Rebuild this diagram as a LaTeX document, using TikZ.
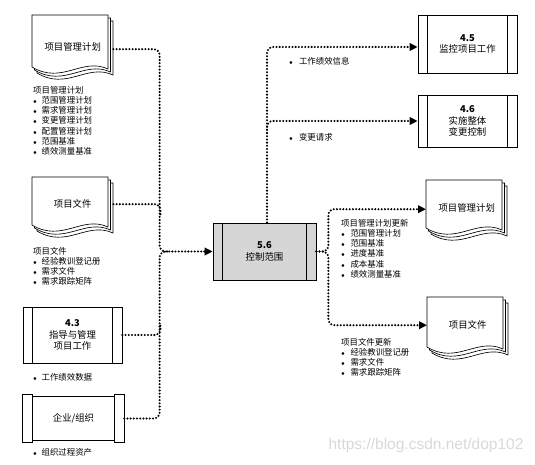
\documentclass[tikz,border=0pt]{standalone}
\usepackage{fontspec}
\setmainfont{Noto Sans CJK SC}
\newfontfamily\wmfont{Liberation Sans}
\usetikzlibrary{arrows.meta,calc}
\newcommand\bul[1][8.5pt]{\makebox[#1][l]{$\scriptstyle\bullet$}}
\newcommand\fsbox{\fontsize{9.4}{11.5}\selectfont}
\newcommand\fslist{\fontsize{8.4}{10.2}\selectfont}
\tikzset{
  flow/.style={line width=2.3pt, dash pattern=on 0pt off 3.2pt, line cap=round, rounded corners=6pt},
  tip/.style={-{Triangle[length=8pt,width=7.5pt]}},
  bar/.style={line width=0.75pt},
  proc/.style={draw, line width=0.75pt, fill=white, minimum width=99pt, inner sep=0pt, align=center, font=\fsbox,
    path picture={
      \draw[bar] ([xshift=9.5pt]path picture bounding box.north west) -- ([xshift=9.5pt]path picture bounding box.south west);
      \draw[bar] ([xshift=-9.5pt]path picture bounding box.north east) -- ([xshift=-9.5pt]path picture bounding box.south east);
    }},
  docnode/.style={anchor=north west, minimum width=81pt, inner sep=0pt, font=\fsbox},
  lst/.style={anchor=north west, inner sep=0pt, align=left, font=\fslist},
  pics/docpic/.style={code={
    \foreach \o in {5,2.5,0}{
      \filldraw[line width=0.65pt, fill=white] (\o,{1.2*\o}) -- ({76+\o},{1.2*\o}) -- ({76+\o},{#1+2+1.2*\o})
        .. controls ({50+\o},{#1-10+1.2*\o}) and ({30+\o},{#1+18+1.2*\o}) .. (\o,{#1+1.2*\o}) -- cycle;
    }}}
}
\begin{document}
\begin{tikzpicture}[x=1pt,y=-1pt]
\useasboundingbox[fill=white] (0,0) rectangle (535,465);

% documents (left)
\pic at (32,15) {docpic=52};
\node[docnode, minimum height=68pt] (d1) at (32,15) {\raisebox{6pt}{项目管理计划}};
\pic at (32,177) {docpic=48};
\node[docnode, minimum height=54pt] (d2) at (32,177) {\raisebox{1pt}{项目文件}};
% documents (right)
\pic at (426,180) {docpic=48};
\node[docnode, minimum height=58pt] (d3) at (426,180) {\raisebox{3pt}{项目管理计划}};
\pic at (427,297) {docpic=50};
\node[docnode, minimum height=56pt] (d4) at (427,297) {\raisebox{2pt}{项目文件}};

% process boxes
\node[proc, minimum height=58pt] (p45) at (467.5,44) {\textbf{4.5}\\监控项目工作};
\node[proc, minimum height=52pt] (p46) at (467.5,121) {\textbf{4.6}\\实施整体\\变更控制};
\node[proc, minimum height=57pt, minimum width=103pt, fill=black!16] (c56) at (264.5,251.5) {\textbf{5.6}\\控制范围};
\node[proc, minimum height=56pt] (p43) at (72.5,335) {\textbf{4.3}\\指导与管理\\项目工作};

% enterprise / organisation
\node[minimum width=101pt, minimum height=43pt, inner sep=0pt, font=\fsbox] (org) at (73.5,418.5) {企业/组织};
\draw[bar] ([xshift=10pt]org.north west) rectangle ([xshift=-10pt]org.south east);
\draw[bar] ([yshift=2pt]org.north west) rectangle ([xshift=10pt,yshift=-2pt]org.south west);
\draw[bar] ([xshift=-10pt,yshift=2pt]org.north east) rectangle ([yshift=-2pt]org.south east);

% lists
\node[lst] (l1) at (33,86) {项目管理计划\\\bul 范围管理计划\\\bul 需求管理计划\\\bul 变更管理计划\\\bul 配置管理计划\\\bul 范围基准\\\bul 绩效测量基准};
\node[lst] (l2) at (33,247) {项目文件\\\bul 经验教训登记册\\\bul 需求文件\\\bul 需求跟踪矩阵};
\node[lst] (n1) at (33,373) {\bul 工作绩效数据};
\node[lst] (n2) at (33,448) {\bul 组织过程资产};
\node[lst] (n3) at (289,57) {\bul[8pt] 工作绩效信息};
\node[lst] (n4) at (289,133) {\bul[8pt] 变更请求};
\node[lst] (l3) at (341,219) {项目管理计划更新\\\bul[7.5pt] 范围管理计划\\\bul[7.5pt] 范围基准\\\bul[7.5pt] 进度基准\\\bul[7.5pt] 成本基准\\\bul[7.5pt] 绩效测量基准};
\node[lst] (l4) at (341,338) {项目文件更新\\\bul[7.5pt] 经验教训登记册\\\bul[7.5pt] 需求文件\\\bul[7.5pt] 需求跟踪矩阵};

% left connectors
\coordinate (jl) at ($(c56.west)+(-53,0)$);
\draw[flow,tip] (d1.east) -| (jl) -- (c56.west);
\draw[flow] (org.east) -| (jl) -- ++(10,0);
\draw[flow] (d2.east) -| ($(d2.east)+(47,12)$);
\draw[flow] (p43.east) -| ($(p43.east)+(38,-12)$);

% top connectors
\coordinate (c56t) at ([xshift=2.5pt]c56.north);
\draw[flow,tip] (c56t) |- ([yshift=-3pt]p45.west);
\draw[flow,tip] ($(c56t |- p46.west)+(0,12)$) |- (p46.west);

% right connectors
\draw[flow,tip] (c56.east) -- ++(12,0) |- (d3.west);
\draw[flow,tip] (c56.east) -- ++(12,0) |- (d4.west);

% watermark
\node[text=black!15, font=\wmfont\fontsize{15.5}{16}\selectfont, inner sep=0pt] (wm) at (426,445) {https://blog.csdn.net/dop102};
\end{tikzpicture}
\end{document}
